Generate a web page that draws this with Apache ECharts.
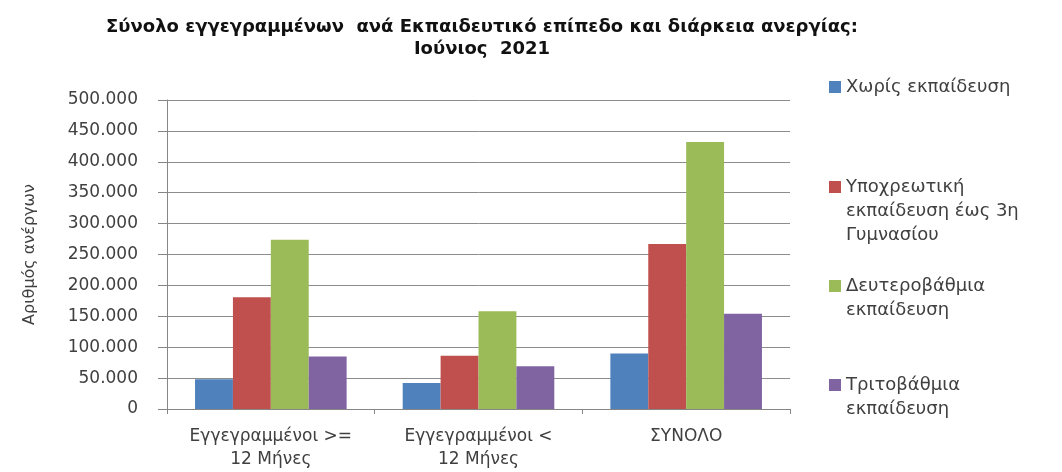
<!DOCTYPE html>
<html>
<head>
<meta charset="utf-8">
<script src="https://cdn.jsdelivr.net/npm/echarts@6/dist/echarts.min.js"></script>
<style>
html,body{margin:0;padding:0;background:#fff;}
#chart{width:1062px;height:472px;}
</style>
</head>
<body>
<div id="chart"></div>
<script>
const categories = ['Εγγεγραμμένοι >=\n12 Μήνες', 'Εγγεγραμμένοι <\n12 Μήνες', 'ΣΥΝΟΛΟ'];
const seriesNames = ['Χωρίς εκπαίδευση', 'Υποχρεωτική\nεκπαίδευση έως 3η\nΓυμνασίου', 'Δευτεροβάθμια\nεκπαίδευση', 'Τριτοβάθμια\nεκπαίδευση'];
const noEducation = [48000, 42000, 90000];
const compulsory = [181000, 86000, 267000];
const secondary = [274000, 158000, 432000];
const tertiary = [85000, 69000, 154000];
const yTickLabels = ['0', '50.000', '100.000', '150.000', '200.000', '250.000', '300.000', '350.000', '400.000', '450.000', '500.000'];
const colors = ['#4F81BD', '#C0504D', '#9BBB59', '#8064A2'];

const values = [noEducation, compulsory, secondary, tertiary];
const legendTops = [75, 127, 250, 349];
const FONT = 'DejaVu Sans';

const chart = echarts.init(document.getElementById('chart'));
chart.setOption({
  animation: false,
  color: colors,
  title: {
    text: 'Σύνολο εγγεγραμμένων  ανά Εκπαιδευτικό επίπεδο και διάρκεια ανεργίας:\nΙούνιος  2021',
    left: 482,
    top: 16,
    padding: 0,
    textAlign: 'center',
    textStyle: {fontFamily: FONT, fontSize: 18, fontWeight: 'bold', color: '#111', lineHeight: 22}
  },
  legend: seriesNames.map((n, i) => ({
    data: [n],
    orient: 'vertical',
    left: 829,
    top: legendTops[i],
    padding: 0,
    itemWidth: 12,
    itemHeight: 12,
    icon: 'rect',
    selectedMode: false,
    formatter: name => '\n'.repeat(name.split('\n').length - 1) + name,
    textStyle: {fontFamily: FONT, fontSize: 18, color: '#404040', lineHeight: 24}
  })),
  grid: {left: 167, right: 272, top: 100, bottom: 63},
  xAxis: {
    type: 'category',
    data: categories,
    axisLine: {show: true, lineStyle: {color: '#868686', width: 1}},
    axisTick: {show: true, length: 5, lineStyle: {color: '#868686'}},
    axisLabel: {interval: 0, margin: 16, fontFamily: FONT, fontSize: 17, color: '#404040', lineHeight: 23}
  },
  yAxis: {
    type: 'value',
    min: 0,
    max: 500000,
    interval: 50000,
    name: 'Αριθμός ανέργων',
    nameLocation: 'middle',
    nameGap: 129,
    nameTextStyle: {fontFamily: FONT, fontSize: 16, color: '#404040'},
    axisLine: {show: true, lineStyle: {color: '#868686', width: 1}},
    axisTick: {show: true, length: 9, lineStyle: {color: '#868686'}},
    splitLine: {show: true, lineStyle: {color: '#8c8c8c', width: 1}},
    axisLabel: {
      margin: 29,
      fontFamily: FONT, fontSize: 17, color: '#404040',
      formatter: v => yTickLabels[Math.round(v / 50000)]
    }
  },
  series: seriesNames.map((n, i) => ({
    name: n,
    type: 'bar',
    data: values[i],
    barGap: 0,
    barCategoryGap: '27%',
    itemStyle: {color: colors[i]}
  }))
});
</script>
</body>
</html>
